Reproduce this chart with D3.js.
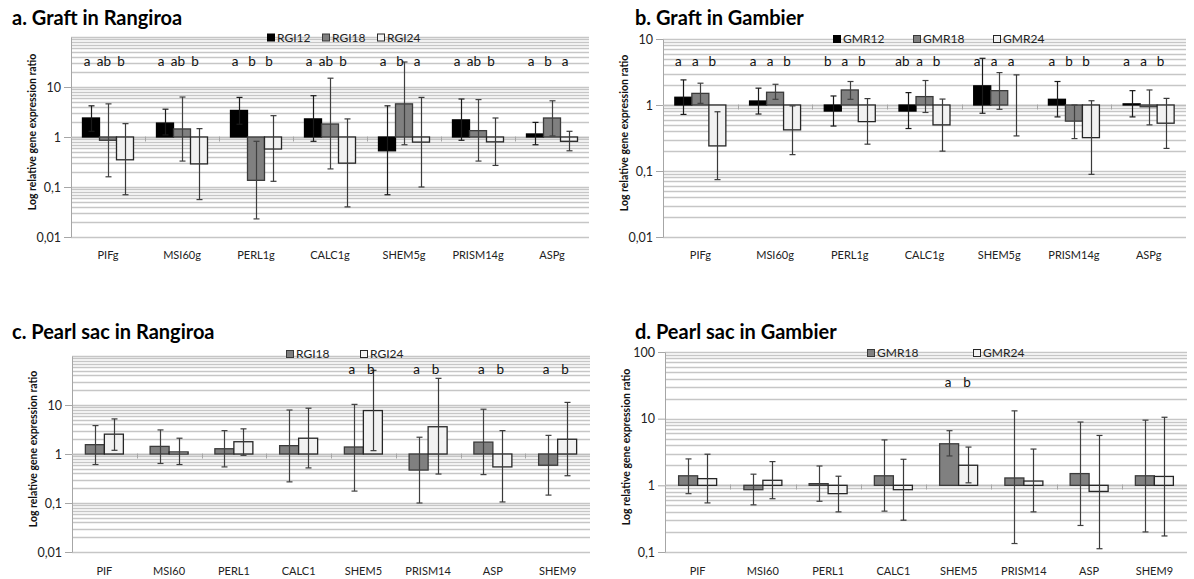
<!DOCTYPE html>
<html>
<head>
<meta charset="utf-8">
<script src="https://cdn.jsdelivr.net/npm/d3@7"></script>
<style>
  body { margin: 0; background: #fff; }
  svg { display: block; font-family: Lato, "Liberation Sans", sans-serif; }
</style>
</head>
<body>
<svg width="1194" height="579"></svg>
<script>
"use strict";

// gene names (x categories)
const graftGenes = ["PIFg", "MSI60g", "PERL1g", "CALC1g", "SHEM5g", "PRISM14g", "ASPg"];
const sacGenes = ["PIF", "MSI60", "PERL1", "CALC1", "SHEM5", "PRISM14", "ASP", "SHEM9"];

// a. Graft in Rangiroa
const rgiGraft12 = [2.4, 1.9, 3.4, 2.3, 0.53, 2.2, 1.15];
const rgiGraft12Lo = [1.3, 1.1, 1.8, 0.82, 0.07, 0.86, 0.70];
const rgiGraft12Hi = [4.2, 3.6, 6.2, 6.7, 4.2, 5.75, 1.96];
const rgiGraft18 = [0.86, 1.45, 0.136, 1.82, 4.6, 1.34, 2.4];
const rgiGraft18Lo = [0.16, 0.33, 0.023, 0.23, 0.70, 0.33, 1.05];
const rgiGraft18Hi = [4.6, 6.3, 0.82, 15, 31.6, 5.6, 5.3];
const rgiGraft24 = [0.35, 0.29, 0.575, 0.30, 0.79, 0.8, 0.82];
const rgiGraft24Lo = [0.07, 0.056, 0.13, 0.04, 0.10, 0.27, 0.53];
const rgiGraft24Hi = [1.85, 1.47, 2.67, 2.3, 6.2, 2.4, 1.3];
const lettersA = [["a", "ab", "b"], ["a", "ab", "b"], ["a", "b", "b"], ["a", "ab", "b"],
                  ["a", "b", "a"], ["a", "ab", "b"], ["a", "b", "a"]];

// b. Graft in Gambier
const gmrGraft12 = [1.31, 1.15, 0.81, 0.81, 1.95, 1.22, 1.04];
const gmrGraft12Lo = [0.72, 0.73, 0.48, 0.44, 0.75, 0.66, 0.66];
const gmrGraft12Hi = [2.4, 1.8, 1.37, 1.54, 5.1, 2.27, 1.65];
const gmrGraft18 = [1.5, 1.56, 1.69, 1.34, 1.65, 0.57, 0.94];
const gmrGraft18Lo = [1.06, 1.22, 1.22, 0.77, 0.86, 0.31, 0.5];
const gmrGraft18Hi = [2.14, 2.06, 2.27, 2.35, 3.1, 1.0, 1.69];
const gmrGraft24 = [0.24, 0.42, 0.56, 0.5, 1.0, 0.32, 0.53];
const gmrGraft24Lo = [0.074, 0.177, 0.255, 0.2, 0.34, 0.089, 0.22];
const gmrGraft24Hi = [0.79, 0.97, 1.25, 1.23, 2.86, 1.16, 1.26];
const lettersB = [["a", "a", "b"], ["a", "a", "b"], ["b", "a", "b"], ["ab", "a", "b"],
                  ["a", "a", "a"], ["a", "b", "b"], ["a", "a", "b"]];

// c. Pearl sac in Rangiroa
const rgiSac18 = [1.55, 1.43, 1.28, 1.48, 1.39, 0.47, 1.75, 0.59];
const rgiSac18Lo = [0.61, 0.64, 0.545, 0.27, 0.175, 0.1, 0.38, 0.145];
const rgiSac18Hi = [3.8, 3.1, 3.0, 7.9, 10.3, 2.2, 8.2, 2.4];
const rgiSac24 = [2.54, 1.1, 1.78, 2.1, 7.7, 3.6, 0.545, 2.0];
const rgiSac24Lo = [1.19, 0.61, 0.94, 0.52, 1.17, 0.39, 0.105, 0.36];
const rgiSac24Hi = [5.2, 2.1, 3.26, 8.6, 51, 35, 3.0, 11.3];
const lettersC = [["", ""], ["", ""], ["", ""], ["", ""], ["a", "b"], ["a", "b"], ["a", "b"], ["a", "b"]];

// d. Pearl sac in Gambier
const gmrSac18 = [1.39, 0.86, 1.06, 1.39, 4.2, 1.29, 1.5, 1.39];
const gmrSac18Lo = [0.75, 0.51, 0.577, 0.41, 2.76, 0.134, 0.25, 0.2];
const gmrSac18Hi = [2.49, 1.47, 1.95, 4.8, 6.6, 13.1, 8.9, 9.5];
const gmrSac24 = [1.26, 1.19, 0.75, 0.86, 2.0, 1.16, 0.81, 1.36];
const gmrSac24Lo = [0.545, 0.63, 0.4, 0.3, 1.09, 0.4, 0.112, 0.174];
const gmrSac24Hi = [2.93, 2.27, 1.37, 2.46, 3.75, 3.5, 5.6, 10.5];
const lettersD = [["", ""], ["", ""], ["", ""], ["", ""], ["a", "b"], ["", ""], ["", ""], ["", ""]];

// y tick labels shown on each panel
const yTicksA = [0.01, 0.1, 1, 10];
const yTicksB = [0.01, 0.1, 1, 10];
const yTicksC = [0.01, 0.1, 1, 10];
const yTicksD = [0.1, 1, 10, 100];

// bar looks per series kind
const look = {
  black: { fill: "#000000", stroke: "#000000", err: "#1a1a1a" },
  gray: { fill: "#808080", stroke: "#3a3a3a", err: "#404040" },
  white: { fill: "#f2f2f2", stroke: "#262626", err: "#3a3a3a" }
};

// excel style decimal comma
const fmt = d3.formatLocale({ decimal: ",", thousands: ".", grouping: [3], currency: ["", ""] }).format("~g");

const panels = [
  {
    title: "a. Graft in Rangiroa", tx: 12, ty: 25,
    genes: graftGenes, domain: [0.01, 100], yTicks: yTicksA, letters: lettersA,
    left: 71, right: 589, top: 37, bottom: 237, barW: 17,
    letterY: 66, letterDx: -4, labelY: 259,
    legendX: 267, legendY: 37.5, legendStep: 55,
    series: [
      { name: "RGI12", kind: "black", v: rgiGraft12, lo: rgiGraft12Lo, hi: rgiGraft12Hi },
      { name: "RGI18", kind: "gray", v: rgiGraft18, lo: rgiGraft18Lo, hi: rgiGraft18Hi },
      { name: "RGI24", kind: "white", v: rgiGraft24, lo: rgiGraft24Lo, hi: rgiGraft24Hi }
    ]
  },
  {
    title: "b. Graft in Gambier", tx: 635, ty: 25,
    genes: graftGenes, domain: [0.01, 10], yTicks: yTicksB, letters: lettersB,
    left: 663, right: 1186, top: 39, bottom: 237, barW: 17,
    letterY: 66, letterDx: -5, labelY: 259,
    legendX: 833, legendY: 39, legendStep: 80,
    series: [
      { name: "GMR12", kind: "black", v: gmrGraft12, lo: gmrGraft12Lo, hi: gmrGraft12Hi },
      { name: "GMR18", kind: "gray", v: gmrGraft18, lo: gmrGraft18Lo, hi: gmrGraft18Hi },
      { name: "GMR24", kind: "white", v: gmrGraft24, lo: gmrGraft24Lo, hi: gmrGraft24Hi }
    ]
  },
  {
    title: "c. Pearl sac in Rangiroa", tx: 12, ty: 339,
    genes: sacGenes, domain: [0.01, 100], yTicks: yTicksC, letters: lettersC,
    left: 72, right: 590, top: 356, bottom: 552, barW: 19,
    letterY: 374, letterDx: -2, labelY: 575,
    legendX: 286, legendY: 354, legendStep: 74,
    series: [
      { name: "RGI18", kind: "gray", v: rgiSac18, lo: rgiSac18Lo, hi: rgiSac18Hi },
      { name: "RGI24", kind: "white", v: rgiSac24, lo: rgiSac24Lo, hi: rgiSac24Hi }
    ]
  },
  {
    title: "d. Pearl sac in Gambier", tx: 635, ty: 339,
    genes: sacGenes, domain: [0.1, 100], yTicks: yTicksD, letters: lettersD,
    left: 665, right: 1187, top: 352, bottom: 552, barW: 19,
    letterY: 387, letterDx: -1, labelY: 575,
    legendX: 867, legendY: 353, legendStep: 106,
    series: [
      { name: "GMR18", kind: "gray", v: gmrSac18, lo: gmrSac18Lo, hi: gmrSac18Hi },
      { name: "GMR24", kind: "white", v: gmrSac24, lo: gmrSac24Lo, hi: gmrSac24Hi }
    ]
  }
];

const svg = d3.select("svg");
svg.append("rect").attr("width", 1194).attr("height", 579).attr("fill", "#fff");

panels.forEach(drawPanel);

function drawPanel(p) {
  const g = svg.append("g");
  const n = p.series.length;

  const y = d3.scaleLog().domain(p.domain).range([p.bottom, p.top]);
  const x0 = d3.scaleBand().domain(p.genes).range([p.left, p.right]);
  const x1 = d3.scaleBand().domain(p.series.map(s => s.name)).range([0, p.barW * n]);
  const off = (x0.bandwidth() - p.barW * n) / 2;

  // log gridlines (1..9 per decade)
  g.append("g")
    .selectAll("line")
    .data(y.ticks())
    .join("line")
    .attr("x1", p.left)
    .attr("x2", p.right)
    .attr("y1", d => Math.round(y(d)) + 0.5)
    .attr("y2", d => Math.round(y(d)) + 0.5)
    .style("stroke", "#c6c6c6")
    .style("stroke-width", "1.4px");

  // left axis
  const ya = g.append("g")
    .attr("transform", `translate(${p.left},0)`)
    .call(d3.axisLeft(y).tickValues(p.yTicks).tickFormat(fmt).tickSize(7).tickSizeOuter(0).tickPadding(3));
  ya.select(".domain").style("stroke", "#a6a6a6");
  ya.selectAll(".tick line").style("stroke", "#a6a6a6");
  ya.selectAll("text").style("font-size", "12.5px").style("fill", "#222").style("font-family", "Lato, sans-serif");

  // category axis crossing at 1
  const y1 = Math.round(y(1)) + 0.5;
  g.append("line")
    .attr("x1", p.left).attr("x2", p.right)
    .attr("y1", y1).attr("y2", y1)
    .style("stroke", "#bdbdbd")
    .style("stroke-width", "1.4px");
  g.append("g")
    .selectAll("line")
    .data(p.genes.slice(1))
    .join("line")
    .attr("x1", d => Math.round(x0(d)) + 0.5)
    .attr("x2", d => Math.round(x0(d)) + 0.5)
    .attr("y1", y1 - 1)
    .attr("y2", y1 + 4)
    .style("stroke", "#a6a6a6");

  // category labels below the plot
  g.append("g")
    .selectAll("text")
    .data(p.genes)
    .join("text")
    .attr("x", d => x0(d) + x0.bandwidth() / 2)
    .attr("y", p.labelY)
    .attr("text-anchor", "middle")
    .style("font-size", "11px")
    .style("fill", "#222")
    .text(d => d);

  // bars and error bars
  p.series.forEach((s, si) => {
    const st = look[s.kind];
    const rows = p.genes.map((gene, k) => ({ gene, v: s.v[k], lo: s.lo[k], hi: s.hi[k] }));
    const bx = d => x0(d.gene) + off + x1(s.name);

    g.append("g")
      .selectAll("rect")
      .data(rows)
      .join("rect")
      .attr("x", bx)
      .attr("y", d => Math.min(y(d.v), y(1)))
      .attr("width", p.barW)
      .attr("height", d => Math.abs(y(d.v) - y(1)))
      .style("fill", st.fill)
      .style("stroke", st.stroke)
      .style("stroke-width", "1.3px");

    const eb = g.append("g")
      .selectAll("g")
      .data(rows)
      .join("g")
      .style("stroke", st.err)
      .style("stroke-width", "1.2px");
    const cx = d => Math.round(bx(d) + p.barW / 2) + 0.5;
    eb.append("line")
      .attr("x1", cx).attr("x2", cx)
      .attr("y1", d => y(d.lo)).attr("y2", d => y(d.hi));
    eb.append("line")
      .attr("x1", d => cx(d) - 3).attr("x2", d => cx(d) + 3)
      .attr("y1", d => y(d.hi)).attr("y2", d => y(d.hi));
    eb.append("line")
      .attr("x1", d => cx(d) - 3).attr("x2", d => cx(d) + 3)
      .attr("y1", d => y(d.lo)).attr("y2", d => y(d.lo));

    // significance letters
    g.append("g")
      .selectAll("text")
      .data(rows.map((d, k) => ({ gene: d.gene, t: p.letters[k][si] })))
      .join("text")
      .attr("x", d => bx(d) + p.barW / 2 + p.letterDx)
      .attr("y", p.letterY)
      .attr("text-anchor", "middle")
      .style("font-size", "13.5px")
      .style("fill", "#111")
      .text(d => d.t);
  });

  // legend on top of the plot
  const lg = g.append("g")
    .selectAll("g")
    .data(p.series)
    .join("g")
    .attr("transform", (d, i) => `translate(${p.legendX + i * p.legendStep},${p.legendY})`);
  lg.append("rect")
    .attr("x", 0.5).attr("y", -3.5)
    .attr("width", 7).attr("height", 7)
    .style("fill", d => look[d.kind].fill)
    .style("stroke", d => look[d.kind].stroke);
  lg.append("text")
    .attr("x", 10)
    .attr("dy", "0.36em")
    .style("font-size", "12px")
    .style("fill", "#222")
    .text(d => d.name);

  // y axis title
  svg.append("text")
    .attr("transform", `translate(${p.left - 35},${(p.top + p.bottom) / 2 - 5}) rotate(-90)`)
    .attr("text-anchor", "middle")
    .style("font-size", "10.5px")
    .style("font-weight", "bold")
    .style("fill", "#111")
    .text("Log relative gene expression ratio");

  // panel title
  svg.append("text")
    .attr("x", p.tx)
    .attr("y", p.ty)
    .style("font-size", "20px")
    .style("font-weight", "bold")
    .style("fill", "#000")
    .text(p.title);
}
</script>
</body>
</html>
